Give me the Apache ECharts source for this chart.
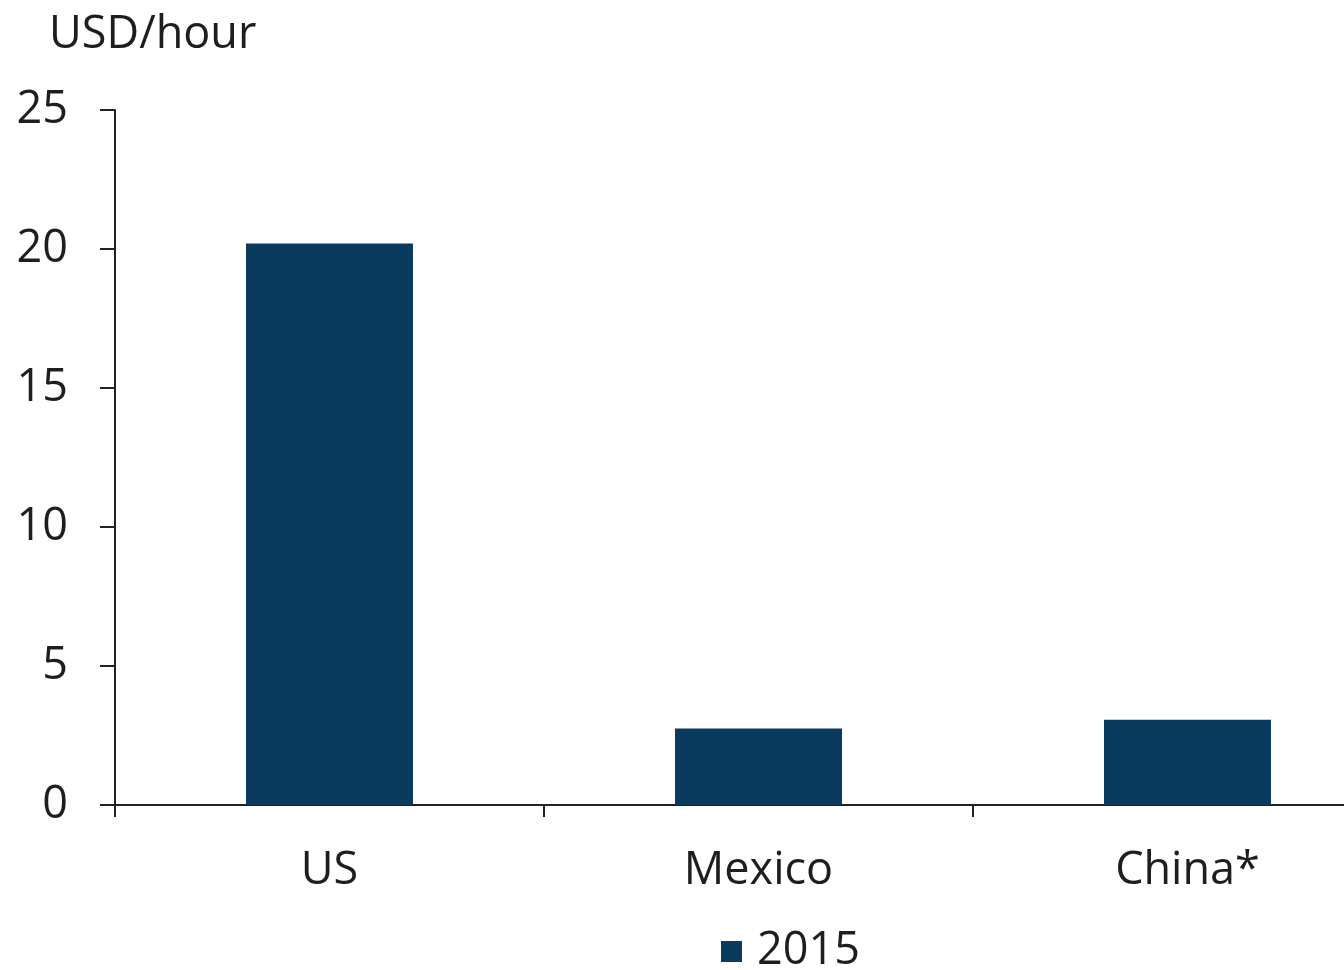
<!DOCTYPE html>
<html>
<head>
<meta charset="utf-8">
<script src="https://cdn.jsdelivr.net/npm/echarts@6/dist/echarts.min.js"></script>
<style>
html,body{margin:0;padding:0;background:#fff;overflow:hidden;width:1344px;height:970px;}
#c{width:1402px;height:970px;}
</style>
</head>
<body>
<div id="c"></div>
<script>
const categories = ['US', 'Mexico', 'China*'];
const values2015 = [20.2, 2.75, 3.07];
const seriesName = '2015';
const yTicks = { min: 0, max: 25, interval: 5 };

const txt = '#1e1e1e';
const font = 'Open Sans';
const chart = echarts.init(document.getElementById('c'));
chart.setOption({
  backgroundColor: '#ffffff',
  animation: false,
  textStyle: { fontFamily: font },
  grid: { left: 115, top: 110, right: 0, bottom: 165, containLabel: false },
  legend: {
    data: [seriesName],
    left: 716, top: 924,
    icon: 'rect', itemWidth: 21, itemHeight: 21, itemGap: 6,
    textStyle: { fontSize: 45, color: txt, fontFamily: font, padding: [0, 0, 0, 10] }
  },
  xAxis: {
    type: 'category',
    data: categories,
    axisLine: { show: true, lineStyle: { color: '#222', width: 2 } },
    axisTick: { show: true, length: 12, lineStyle: { color: '#222', width: 2 } },
    axisLabel: { fontSize: 45, color: txt, margin: 44, fontFamily: font }
  },
  yAxis: {
    type: 'value',
    min: yTicks.min, max: yTicks.max, interval: yTicks.interval,
    name: 'USD/hour',
    nameLocation: 'end',
    nameGap: 52,
    nameTextStyle: { fontSize: 45, color: txt, fontFamily: font, align: 'left', padding: [0, 0, 0, -66] },
    axisLine: { show: true, lineStyle: { color: '#222', width: 2 } },
    axisTick: { show: true, length: 15, lineStyle: { color: '#222', width: 2 } },
    splitLine: { show: false },
    axisLabel: { fontSize: 45, color: txt, margin: 47, fontFamily: font }
  },
  series: [{
    name: seriesName,
    type: 'bar',
    data: values2015,
    barWidth: 167,
    itemStyle: { color: '#0b3a5f' }
  }]
});
</script>
</body>
</html>
